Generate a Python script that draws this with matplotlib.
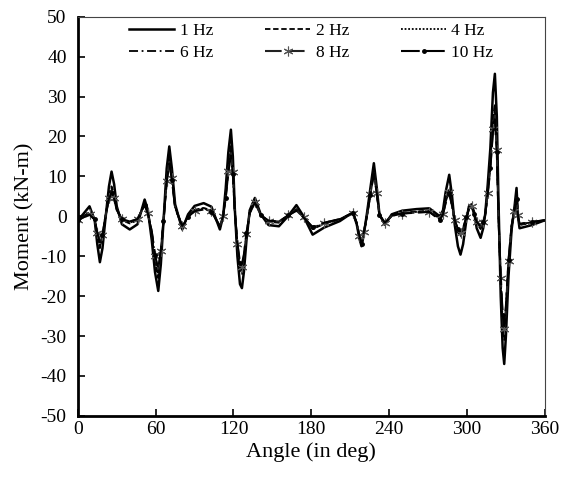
import matplotlib
matplotlib.use("Agg")
import matplotlib.pyplot as plt

plt.rcParams['font.family'] = ['Liberation Serif', 'DejaVu Serif']
plt.rcParams['axes.unicode_minus'] = False

# angle in degrees
angle = [0, 4, 9, 13, 15, 17, 19, 21, 24, 26, 28, 30, 34, 40, 46,
         51.5, 54, 57, 59.5, 62, 64, 66, 68.5, 70.5, 72.5, 75, 80.5,
         85, 90, 97, 103, 109.5,
         112, 114, 116, 118, 119.5, 121, 123, 125, 126.5, 128, 130, 132.5, 136.5,
         141, 147, 155, 162, 168.5, 174, 181, 190, 202, 212,
         215, 217, 218.7, 220.5, 223, 225.5, 228.2, 230.5, 232.5, 236.7,
         242, 250, 261, 271, 279,
         281.5, 283.5, 286.3, 288.5, 290.5, 293, 295, 297, 299.5, 301.5, 303.5,
         305.5, 307.5, 310.5, 312.5, 314,
         316, 318, 320, 321.5, 323, 324.2, 326, 327.5, 328.7, 330, 332, 334.4,
         336.5, 338.2, 339.3, 340.5, 350, 360]

# moment in kN-m for each frequency
m_1hz = [-1.0, 0.5, 2.5, -1.0, -7.0, -11.5, -8.0, -1.5, 7.5, 11.2, 8.0, 2.5, -2.0, -3.3, -2.0,
         4.2, 1.5, -6.0, -14.0, -18.7, -12.0, -1.5, 12.0, 17.5, 12.0, 3.0, -3.3,
         0.5, 2.6, 3.3, 2.4, -3.3,
         0.0, 7.0, 16.0, 21.7, 15.0, 2.0, -10.0, -17.0, -18.0, -14.0, -6.0, 1.5, 4.6,
         0.5, -2.2, -2.5, 0.0, 2.8, 0.0, -4.6, -2.8, -1.2, 1.0,
         -2.0, -5.5, -7.5, -4.5, 1.0, 7.0, 13.3, 7.0, 0.5, -2.1,
         0.5, 1.4, 1.8, 2.0, 0.0,
         1.5, 6.0, 10.4, 5.0, -2.0, -7.5, -9.6, -7.0, -1.0, 2.5, 3.0,
         1.0, -3.0, -5.4, -3.0, 0.5,
         8.0, 17.0, 31.0, 35.7, 25.0, 5.0, -20.0, -33.0, -37.0, -30.0, -15.0, -3.3,
         2.0, 7.1, 0.0, -3.0, -2.2, -1.0]
m_2hz = [-1.0, 0.0, 1.0, -1.0, -5.0, -8.0, -5.5, -0.8, 5.5, 7.5, 5.5, 2.0, -1.0, -1.8, -1.0,
         3.4, 1.0, -4.5, -11.5, -15.5, -10.0, -1.5, 10.0, 15.0, 10.5, 2.5, -2.8,
         0.0, 1.6, 2.1, 1.5, -2.8,
         0.0, 5.5, 13.0, 18.0, 12.5, 1.5, -8.0, -14.0, -14.5, -11.5, -5.0, 1.0, 3.8,
         0.4, -1.4, -1.6, 0.2, 1.8, -0.2, -3.2, -1.9, -0.8, 0.9,
         -1.8, -5.2, -7.2, -4.3, 0.5, 6.0, 11.8, 6.2, 0.3, -1.8,
         0.2, 0.9, 1.2, 1.4, -0.6,
         0.8, 4.0, 7.0, 3.2, -1.2, -4.0, -5.0, -3.8, -0.5, 2.2, 2.8,
         0.8, -1.8, -3.2, -1.8, 0.3,
         6.5, 14.0, 24.5, 28.2, 19.0, 2.0, -17.0, -28.0, -31.0, -25.5, -12.5, -2.8,
         1.6, 5.5, 0.2, -2.2, -1.6, -1.0]
m_4hz = [-1.0, -0.1, 0.8, -1.0, -4.8, -7.6, -5.2, -0.7, 5.2, 7.0, 5.2, 1.9, -0.9, -1.6, -0.9,
         3.2, 0.9, -4.3, -11.0, -14.8, -9.6, -1.4, 9.6, 14.5, 10.1, 2.4, -2.7,
         0.0, 1.5, 2.0, 1.4, -2.7,
         0.0, 5.2, 12.4, 17.2, 12.0, 1.4, -7.6, -13.3, -13.8, -11.0, -4.8, 0.9, 3.7,
         0.4, -1.3, -1.5, 0.2, 1.7, -0.2, -3.0, -1.8, -0.8, 0.9,
         -1.8, -5.1, -7.1, -4.2, 0.4, 5.8, 11.5, 6.0, 0.3, -1.8,
         0.2, 0.8, 1.1, 1.3, -0.7,
         0.7, 3.8, 6.6, 3.0, -1.1, -3.7, -4.6, -3.5, -0.4, 2.1, 2.7,
         0.8, -1.7, -3.0, -1.7, 0.3,
         6.2, 13.4, 23.6, 27.2, 18.2, 1.6, -16.5, -27.0, -30.0, -24.6, -12.0, -2.6,
         1.5, 5.0, 0.2, -2.1, -1.5, -1.0]
m_6hz = [-1.0, -0.2, 0.6, -0.9, -4.5, -7.2, -5.0, -0.7, 4.9, 6.6, 4.9, 1.8, -0.8, -1.5, -0.8,
         3.0, 0.8, -4.1, -10.5, -14.2, -9.2, -1.3, 9.2, 14.0, 9.8, 2.3, -2.6,
         -0.1, 1.4, 1.9, 1.3, -2.6,
         0.0, 5.0, 11.9, 16.5, 11.5, 1.3, -7.3, -12.7, -13.2, -10.5, -4.6, 0.9, 3.6,
         0.3, -1.2, -1.4, 0.2, 1.6, -0.3, -2.9, -1.7, -0.7, 0.9,
         -1.7, -5.0, -7.0, -4.1, 0.4, 5.6, 11.2, 5.9, 0.3, -1.7,
         0.1, 0.8, 1.0, 1.2, -0.8,
         0.6, 3.6, 6.3, 2.8, -1.0, -3.5, -4.3, -3.3, -0.4, 2.0, 2.6,
         0.7, -1.6, -2.8, -1.6, 0.3,
         6.0, 12.9, 22.7, 26.2, 17.4, 1.2, -16.0, -26.1, -29.0, -23.8, -11.6, -2.5,
         1.4, 4.8, 0.2, -2.0, -1.5, -1.0]
m_8hz = [-1.0, -0.3, 0.5, -0.9, -4.3, -6.8, -4.8, -0.6, 4.6, 6.2, 4.6, 1.7, -0.8, -1.4, -0.7,
         2.9, 0.8, -3.9, -10.0, -13.6, -8.8, -1.2, 8.9, 13.6, 9.5, 2.2, -2.5,
         -0.1, 1.4, 1.8, 1.3, -2.5,
         0.0, 4.8, 11.4, 15.8, 11.0, 1.2, -7.0, -12.1, -12.6, -10.0, -4.4, 0.8, 3.5,
         0.3, -1.2, -1.3, 0.2, 1.5, -0.3, -2.8, -1.7, -0.7, 0.8,
         -1.7, -4.9, -7.0, -4.0, 0.3, 5.5, 11.0, 5.8, 0.3, -1.7,
         0.1, 0.7, 1.0, 1.2, -0.8,
         0.5, 3.4, 6.0, 2.7, -1.0, -3.3, -4.1, -3.1, -0.3, 1.9, 2.5,
         0.7, -1.5, -2.6, -1.5, 0.3,
         5.8, 12.4, 21.8, 25.2, 16.6, 0.8, -15.5, -25.3, -28.2, -23.1, -11.3, -2.4,
         1.3, 4.6, 0.2, -2.0, -1.4, -1.0]
m_10hz = [-1.0, -0.3, 0.4, -0.8, -4.1, -6.5, -4.6, -0.6, 4.4, 5.9, 4.4, 1.6, -0.7, -1.3, -0.7,
          2.8, 0.7, -3.8, -9.7, -13.2, -8.5, -1.2, 8.6, 13.2, 9.2, 2.1, -2.4,
          -0.1, 1.3, 1.7, 1.2, -2.4,
          0.0, 4.6, 11.0, 15.2, 10.6, 1.1, -6.7, -11.6, -12.0, -9.6, -4.2, 0.8, 3.4,
          0.3, -1.1, -1.3, 0.2, 1.4, -0.3, -2.7, -1.6, -0.7, 0.8,
          -1.6, -4.8, -6.9, -3.9, 0.3, 5.4, 10.8, 5.7, 0.3, -1.6,
          0.1, 0.7, 0.9, 1.1, -0.9,
          0.5, 3.3, 5.8, 2.6, -0.9, -3.2, -3.9, -3.0, -0.3, 1.9, 2.5,
          0.7, -1.4, -2.5, -1.4, 0.3,
          5.6, 12.0, 21.1, 24.3, 16.0, 0.5, -15.0, -24.7, -27.5, -22.5, -11.0, -2.3,
          1.3, 4.4, 0.2, -1.9, -1.4, -1.0]

x_ticks = [0, 60, 120, 180, 240, 300, 360]
y_ticks = [-50, -40, -30, -20, -10, 0, 10, 20, 30, 40, 50]

fig = plt.figure(figsize=(5.64, 4.78), dpi=100)
ax = fig.add_axes([0.138, 0.130, 0.828, 0.835])

h1, = ax.plot(angle, m_1hz, color='black', lw=1.8, label='1 Hz')
h2, = ax.plot(angle, m_2hz, color='black', lw=1.3, dashes=(3, 1.5), label='2 Hz')
h4, = ax.plot(angle, m_4hz, color='black', lw=1.3, dashes=(1, 1), label='4 Hz')
h6, = ax.plot(angle, m_6hz, color='black', lw=1.3, dashes=(5, 2, 1, 2), label='6 Hz')
h8, = ax.plot(angle, m_8hz, color='#222222', lw=1.5, dashes=(8, 3),
              marker=(6, 2, 0), ms=7, mew=0.8, mec='#555555', markevery=2,
              label='8 Hz')
h10, = ax.plot(angle, m_10hz, color='black', lw=1.5, dashes=(9, 3),
               marker='o', ms=2.5, markevery=3, label='10 Hz')

ax.set_xlim(0, 360)
ax.set_ylim(-50, 50)
ax.set_xticks(x_ticks)
ax.set_yticks(y_ticks)
ax.tick_params(direction='in', labelsize=14, length=5, width=1.2)
ax.tick_params(axis='x', pad=4)
ax.tick_params(axis='y', pad=8)
ax.tick_params(top=False, right=False)

for side in ['left', 'bottom']:
    ax.spines[side].set_linewidth(2)
for side in ['top', 'right']:
    ax.spines[side].set_linewidth(0.8)
    ax.spines[side].set_color('#444444')

ax.set_xlabel('Angle (in deg)', fontsize=16, labelpad=3)
ax.set_ylabel('Moment (kN-m)', fontsize=16, labelpad=4)

ax.legend([h1, h6, h2, h8, h4, h10], ['1 Hz', '6 Hz', '2 Hz', '8 Hz', '4 Hz', '10 Hz'],
          ncol=3, loc='upper center', bbox_to_anchor=(0.5, 1.015), frameon=False,
          fontsize=12.5, handlelength=2.6, handletextpad=0.3, columnspacing=3.0,
          labelspacing=0.35, borderaxespad=0.3)

fig.savefig('out.png', dpi=100)
